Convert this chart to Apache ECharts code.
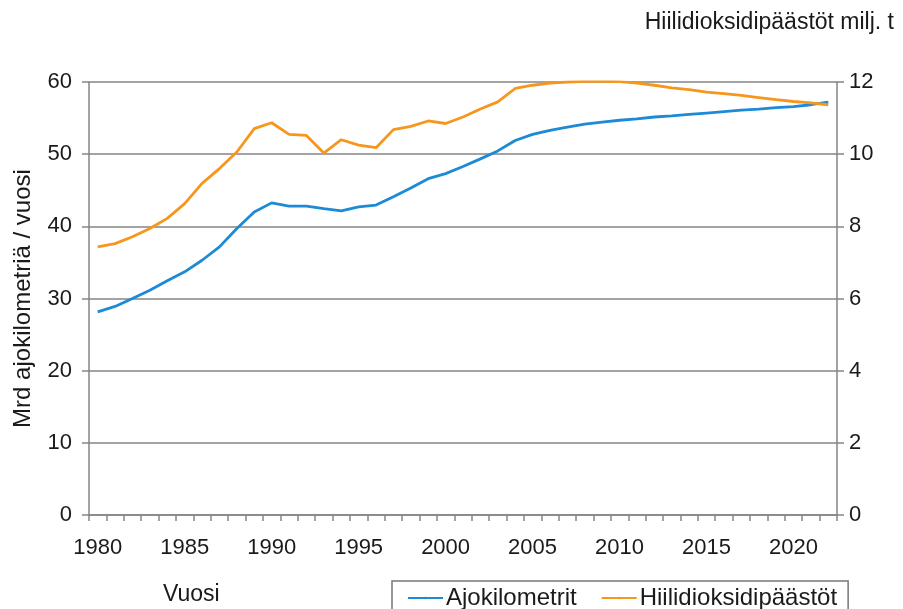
<!DOCTYPE html>
<html>
<head>
<meta charset="utf-8">
<script src="https://cdn.jsdelivr.net/npm/echarts@6/dist/echarts.min.js"></script>
<style>
html,body{margin:0;padding:0;background:#fff;}
#c{width:903px;height:609px;}
</style>
</head>
<body>
<div id="c"></div>
<script>
const years = ['1980','1981','1982','1983','1984','1985','1986','1987','1988','1989','1990','1991','1992','1993','1994','1995','1996','1997','1998','1999','2000','2001','2002','2003','2004','2005','2006','2007','2008','2009','2010','2011','2012','2013','2014','2015','2016','2017','2018','2019','2020','2021','2022'];
const ajokilometrit = [28.15,28.9,30.0,31.15,32.45,33.7,35.3,37.15,39.7,42.0,43.25,42.8,42.8,42.45,42.15,42.7,42.95,44.1,45.3,46.6,47.3,48.3,49.35,50.45,51.9,52.75,53.3,53.75,54.15,54.45,54.7,54.9,55.15,55.3,55.5,55.7,55.9,56.1,56.25,56.45,56.6,56.85,57.2];
const hiilidioksidi = [7.43,7.52,7.71,7.94,8.22,8.63,9.19,9.6,10.06,10.71,10.87,10.55,10.52,10.03,10.4,10.25,10.18,10.68,10.77,10.92,10.85,11.03,11.25,11.45,11.82,11.91,11.97,12.0,12.02,12.02,12.01,11.97,11.91,11.84,11.79,11.72,11.68,11.63,11.57,11.51,11.46,11.42,11.37];
const seriesNames = ['Ajokilometrit','Hiilidioksidipäästöt'];
const leftTitle = 'Mrd ajokilometriä / vuosi';
const rightTitle = 'Hiilidioksidipäästöt milj. t';
const xTitle = 'Vuosi';

const FONT = '"Liberation Sans", Arial, sans-serif';
const TXT = '#1a1a1a';
const GRID = '#858585';

const chart = echarts.init(document.getElementById('c'), null, {renderer:'canvas'});
chart.setOption({
  animation:false,
  backgroundColor:'#fff',
  textStyle:{fontFamily:FONT,color:TXT},
  grid:{left:89,right:66,top:82,bottom:94,containLabel:false},
  legend:{
    left:392, top:581,
    padding:[5,11,5,15],
    borderColor:'#777', borderWidth:1.5,
    itemWidth:35, itemHeight:3, itemGap:24,
    textStyle:{fontFamily:FONT,fontSize:24,color:TXT,padding:[0,0,0,-2]},
    data:seriesNames
  },
  graphic:[
    {type:'text', right:9, top:11, style:{text:rightTitle, font:'23px '+FONT, fill:TXT}},
    {type:'text', left:163, top:583, style:{text:xTitle, font:'23px '+FONT, fill:TXT}}
  ],
  xAxis:{
    type:'category', data:years, boundaryGap:true,
    axisLine:{lineStyle:{color:GRID,width:1.5}},
    axisTick:{show:true,inside:false,length:6,interval:0,lineStyle:{color:GRID,width:1.5}},
    axisLabel:{interval:4,margin:22,fontSize:22,color:TXT,fontFamily:FONT},
    splitLine:{show:false}
  },
  yAxis:[
    {type:'value', min:0, max:60, interval:10, position:'left',
     name:leftTitle, nameLocation:'middle', nameGap:54, nameRotate:90,
     nameTextStyle:{fontSize:24,color:TXT,fontFamily:FONT},
     axisLine:{show:true,lineStyle:{color:GRID,width:1.5}},
     axisTick:{show:true,length:7,lineStyle:{color:GRID,width:1.5}},
     axisLabel:{margin:17,fontSize:22,color:TXT,fontFamily:FONT},
     splitLine:{show:true,lineStyle:{color:GRID,width:1.5}}},
    {type:'value', min:0, max:12, interval:2, position:'right',
     axisLine:{show:true,lineStyle:{color:GRID,width:1.5}},
     axisTick:{show:true,length:7,lineStyle:{color:GRID,width:1.5}},
     axisLabel:{margin:12,fontSize:22,color:TXT,fontFamily:FONT},
     splitLine:{show:false}}
  ],
  series:[
    {name:seriesNames[0], type:'line', yAxisIndex:0, data:ajokilometrit, symbol:'none',
     lineStyle:{color:'#1d8ad6',width:2.8}, itemStyle:{color:'#1d8ad6'}},
    {name:seriesNames[1], type:'line', yAxisIndex:1, data:hiilidioksidi, symbol:'none',
     lineStyle:{color:'#f7961c',width:2.8}, itemStyle:{color:'#f7961c'}}
  ]
});
</script>
</body>
</html>
